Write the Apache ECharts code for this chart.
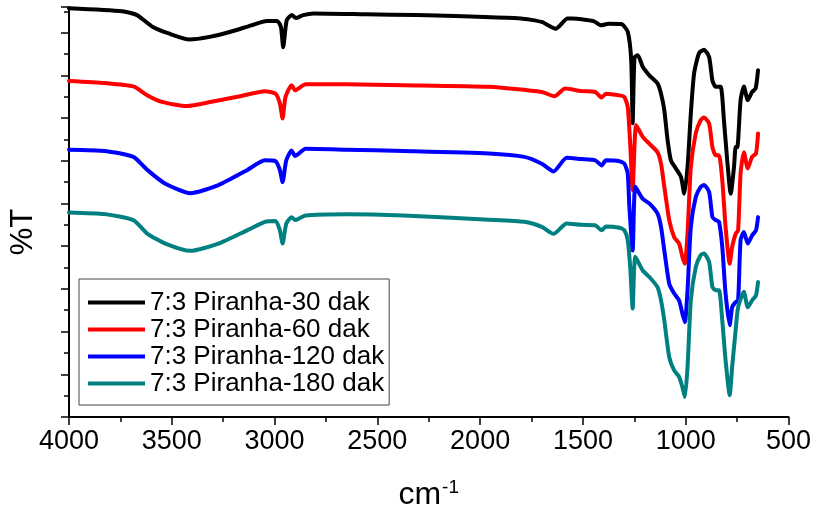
<!DOCTYPE html>
<html>
<head>
<meta charset="utf-8">
<script src="https://cdn.jsdelivr.net/npm/echarts@6/dist/echarts.min.js"></script>
<style>
html,body{margin:0;padding:0;background:#fff;}
#chart{width:814px;height:516px;}
</style>
</head>
<body>
<div id="chart"></div>
<script>
// Wavenumbers (cm^-1) and %T (offset, arbitrary units)
const seriesNames = ['7:3 Piranha-30 dak', '7:3 Piranha-60 dak', '7:3 Piranha-120 dak', '7:3 Piranha-180 dak'];
const seriesColors = ['#000000', '#ff0000', '#0000ff', '#008080'];

const wn30 = [4000,3742,3669,3592,3515,3415,3316,3214,3113,3037,2987,2969,2958,2941,2916,2896,2861,2810,2558,2306,1802,1701,1632,1575,1550,1448,1411,1375,1312,1282,1265,1258,1249,1233,1209,1177,1137,1120,1104,1088,1072,1048,1023,1007,991,975,959,935,911,886,870,854,830,814,798,781,765,757,749,733,717,698,677,660,648];
const t30  = [9.07,9.00,8.91,8.63,8.48,8.34,8.40,8.52,8.67,8.77,8.77,8.63,8.16,8.79,8.91,8.84,8.91,8.95,8.93,8.91,8.83,8.75,8.59,8.83,8.83,8.77,8.67,8.71,8.70,8.52,7.85,6.38,7.92,7.97,7.70,7.50,7.31,7.07,6.68,5.98,5.51,5.32,5.12,4.73,5.35,6.61,7.55,8.02,8.10,7.93,7.38,7.23,7.23,6.45,5.51,4.73,5.35,5.82,5.82,6.92,7.24,6.92,7.11,7.19,7.62];

const wn60 = [4000,3825,3687,3618,3548,3427,3306,3168,3047,2995,2974,2961,2947,2917,2900,2849,2650,2373,1958,1700,1639,1586,1509,1440,1409,1388,1322,1298,1282,1270,1258,1241,1209,1177,1137,1120,1104,1080,1056,1032,1016,1004,991,975,951,927,911,886,870,854,838,822,806,786,774,757,745,733,717,698,677,658,648];
const t60  = [7.37,7.32,7.24,7.03,6.88,6.78,6.88,7.01,7.13,7.07,6.84,6.49,6.99,7.27,7.15,7.29,7.29,7.27,7.23,7.11,7.01,7.19,7.13,7.11,6.98,7.07,7.03,6.99,6.76,5.90,4.81,6.33,6.06,5.90,5.70,5.43,4.89,4.11,3.71,3.56,3.25,3.09,3.80,5.35,6.14,6.45,6.51,6.37,5.82,5.63,5.63,5.04,3.95,3.09,3.48,3.79,3.87,5.20,5.70,5.32,5.59,5.67,6.14];

const wn120 = [4000,3825,3687,3618,3531,3410,3273,3134,3047,2995,2974,2961,2943,2917,2900,2849,2650,2373,1958,1785,1700,1643,1579,1509,1440,1409,1388,1322,1298,1282,1274,1258,1245,1209,1177,1137,1120,1104,1080,1056,1032,1016,1004,991,975,951,927,911,886,870,854,838,822,806,786,774,757,745,733,717,698,677,658,648];
const t120  = [5.76,5.73,5.59,5.28,4.96,4.74,4.93,5.28,5.51,5.49,5.28,5.00,5.51,5.74,5.61,5.78,5.76,5.73,5.67,5.59,5.43,5.25,5.57,5.54,5.51,5.39,5.51,5.49,5.43,5.20,4.42,3.40,4.89,4.61,4.50,4.26,3.95,3.40,2.62,2.39,2.23,1.92,1.72,2.47,3.95,4.65,4.89,4.93,4.77,4.18,4.11,4.07,3.48,2.39,1.65,2.07,2.19,2.23,3.64,3.83,3.56,3.75,3.87,4.18];

const wn180 = [4000,3825,3687,3618,3531,3410,3273,3134,3047,2995,2974,2961,2943,2917,2900,2849,2650,2373,1958,1785,1700,1643,1579,1509,1440,1409,1388,1322,1298,1282,1270,1258,1245,1209,1177,1137,1120,1104,1080,1056,1032,1016,1004,991,975,951,927,911,886,870,854,838,822,806,786,774,757,745,717,698,677,658,648];
const t180  = [4.29,4.25,4.11,3.79,3.56,3.39,3.56,3.87,4.07,4.09,3.87,3.56,4.03,4.18,4.11,4.22,4.25,4.22,4.12,4.07,3.95,3.79,4.03,4.00,3.99,3.87,3.96,3.93,3.87,3.64,3.01,2.04,3.25,2.93,2.78,2.54,2.23,1.76,0.90,0.59,0.44,0.20,-0.03,0.67,2.23,3.01,3.29,3.33,3.13,2.54,2.47,2.47,1.76,0.83,0.01,0.67,1.53,2.07,2.43,2.07,2.23,2.35,2.66];

const xTicks = [4000, 3500, 3000, 2500, 2000, 1500, 1000, 500];

const wnSets = [wn30, wn60, wn120, wn180];
const tSets = [t30, t60, t120, t180];

const FONT = '"Liberation Sans", Arial, sans-serif';
const chart = echarts.init(document.getElementById('chart'), null, {renderer: 'canvas'});

const series = seriesNames.map((name, i) => ({
  name: name,
  type: 'line',
  showSymbol: false,
  symbol: 'none',
  smooth: 0.2,
  clip: false,
  lineStyle: {color: seriesColors[i], width: 4, join: 'round', cap: 'round'},
  itemStyle: {color: seriesColors[i]},
  data: wnSets[i].map((w, k) => [w, tSets[i][k]])
}));

chart.setOption({
  animation: false,
  backgroundColor: '#ffffff',
  grid: {left: 67, right: 24, top: 7, bottom: 99, containLabel: false},
  legend: {
    orient: 'vertical',
    left: 79,
    top: 279,
    icon: 'rect',
    itemWidth: 57,
    itemHeight: 4,
    itemGap: 0,
    padding: [10, 5, 8, 9],
    borderColor: '#444',
    borderWidth: 1,
    textStyle: {fontFamily: FONT, fontSize: 26, color: '#000', lineHeight: 27},
    data: seriesNames
  },
  xAxis: {
    type: 'value',
    inverse: true,
    min: 500,
    max: 4000,
    interval: 500,
    name: '{a|cm}{b|-1}',
    nameLocation: 'middle',
    nameGap: 61,
    nameTextStyle: {
      rich: {
        a: {fontFamily: FONT, fontSize: 32, color: '#000', lineHeight: 34},
        b: {fontFamily: FONT, fontSize: 19, color: '#000', verticalAlign: 'top', padding: [0, 0, 14, 1]}
      }
    },
    axisLine: {show: true, onZero: false, lineStyle: {color: '#000', width: 2}},
    axisTick: {show: true, inside: false, length: 8, lineStyle: {color: '#000', width: 1.5}},
    minorTick: {show: true, splitNumber: 2, length: 5, lineStyle: {color: '#000', width: 1.5}},
    axisLabel: {
      show: true, margin: 11, fontFamily: FONT, fontSize: 27, color: '#000',
      formatter: v => (xTicks.indexOf(v) >= 0 ? String(v) : '')
    },
    splitLine: {show: false}
  },
  yAxis: {
    type: 'value',
    min: -0.5,
    max: 9.1,
    interval: 1,
    name: '%T',
    nameLocation: 'middle',
    nameGap: 30,
    nameRotate: 90,
    nameTextStyle: {fontFamily: FONT, fontSize: 31, color: '#000', padding: [0, 40, 0, 0]},
    axisLine: {show: true, onZero: false, lineStyle: {color: '#000', width: 2}},
    axisTick: {show: true, inside: false, length: 8, lineStyle: {color: '#000', width: 1.5}},
    minorTick: {show: true, splitNumber: 2, length: 5, lineStyle: {color: '#000', width: 1.5}},
    axisLabel: {show: false},
    splitLine: {show: false}
  },
  series: series
});
</script>
</body>
</html>
